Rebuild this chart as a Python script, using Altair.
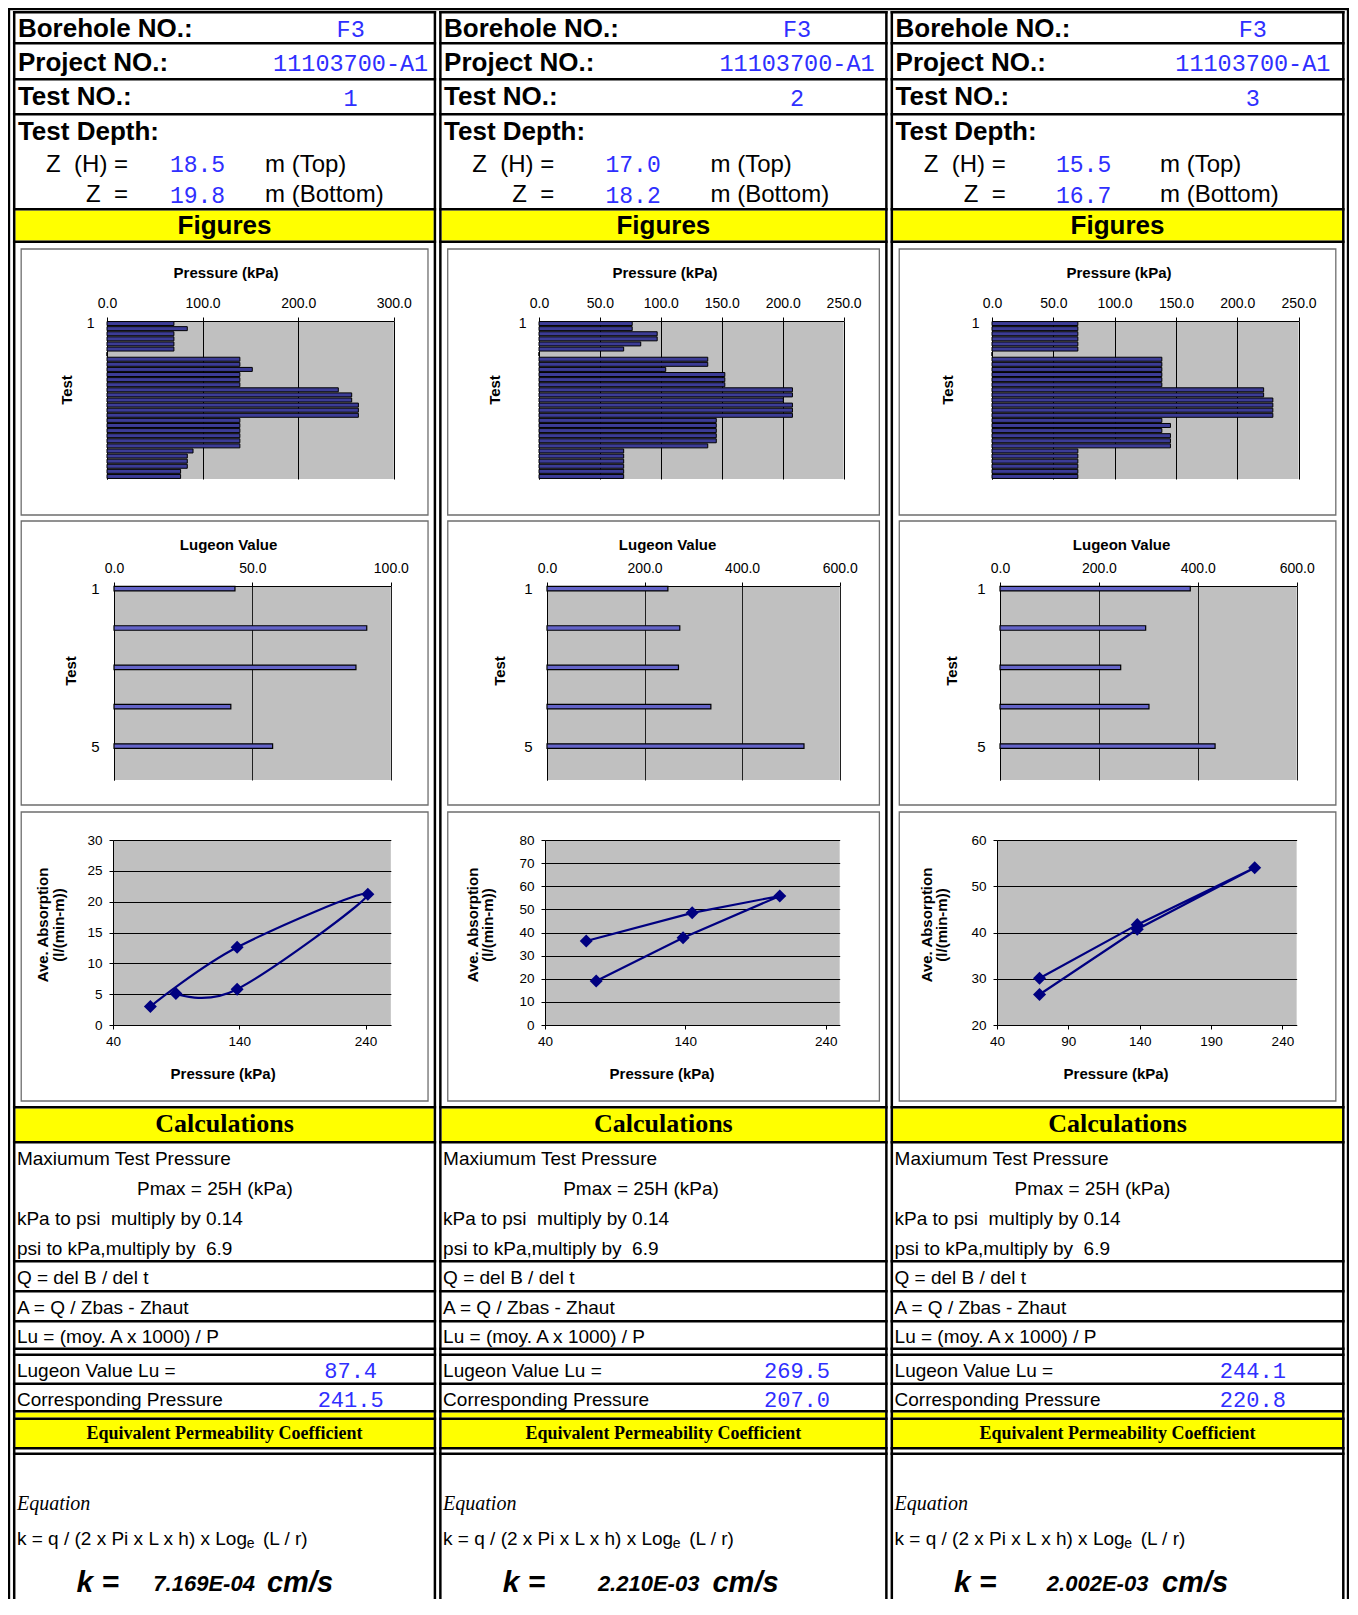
import altair as alt
import pandas as pd

# ------------------------------------------------------------------
# Values
# ------------------------------------------------------------------
borehole_no = ["F3", "F3", "F3"]
project_no = ["11103700-A1", "11103700-A1", "11103700-A1"]
test_no = ["1", "2", "3"]
depth_top = ["18.5", "17.0", "15.5"]
depth_bottom = ["19.8", "18.2", "16.7"]
lugeon_result = ["87.4", "269.5", "244.1"]
corresponding_pressure = ["241.5", "207.0", "220.8"]
k_result = ["7.169E-04", "2.210E-03", "2.002E-03"]

pressure_test_1 = [70, 84, 70, 70, 70, 70, 0,
                   139, 139, 152, 139, 139, 139,
                   242, 256, 256, 263, 263, 263,
                   139, 139, 139, 139, 139, 139,
                   90, 84, 84, 84, 77, 77]
pressure_test_2 = [76.5, 76.5, 97, 97, 83.5, 69.5, 0,
                   138.5, 138.5, 104, 152.5, 152.5, 152.5,
                   208, 208, 200.5, 208, 208, 208,
                   145.5, 145.5, 145.5, 145.5, 145.5, 138.5,
                   69.5, 69.5, 69.5, 69.5, 69.5, 69.5]
pressure_test_3 = [70, 70, 70, 70, 70, 70, 0,
                   138.5, 138.5, 138.5, 138.5, 138.5, 138.5,
                   221.5, 221.5, 229, 229, 229, 229,
                   138.5, 145.5, 138.5, 145.5, 145.5, 145.5,
                   70, 70, 70, 70, 70, 70]
pressure_max = [300, 250, 250]
pressure_ticks = [[0, 100, 200, 300],
                  [0, 50, 100, 150, 200, 250],
                  [0, 50, 100, 150, 200, 250]]

lugeon_test_1 = [43.7, 91.3, 87.4, 42.2, 57.3]
lugeon_test_2 = [247.8, 272.2, 269.5, 335.9, 526.8]
lugeon_test_3 = [384.8, 294.6, 244.1, 301.3, 435.0]
lugeon_max = [100, 600, 600]
lugeon_ticks = [[0, 50, 100], [0, 200, 400, 600], [0, 200, 400, 600]]

absorption_pressure_1 = [69.6, 138.3, 241.8, 138.3, 89.8]
absorption_value_1 = [3.0, 12.6, 21.2, 5.8, 5.1]
absorption_pressure_2 = [69.4, 144.9, 207.3, 138.4, 76.5]
absorption_value_2 = [36.3, 48.5, 55.8, 37.7, 19.0]
absorption_pressure_3 = [69.8, 138.3, 220.6, 138.3, 69.8]
absorption_value_3 = [30.1, 41.7, 54.0, 40.7, 26.6]
absorption_x_domain = [[40, 260], [40, 250], [40, 250]]
absorption_x_ticks = [[40, 140, 240], [40, 140, 240], [40, 90, 140, 190, 240]]
absorption_y_domain = [[0, 30], [0, 80], [20, 60]]
absorption_y_ticks = [[0, 5, 10, 15, 20, 25, 30],
                      [0, 10, 20, 30, 40, 50, 60, 70, 80],
                      [20, 30, 40, 50, 60]]
absorption_smooth = [True, False, False]

pressure_series = [pressure_test_1, pressure_test_2, pressure_test_3]
lugeon_series = [lugeon_test_1, lugeon_test_2, lugeon_test_3]
absorption_series = [(absorption_pressure_1, absorption_value_1),
                     (absorption_pressure_2, absorption_value_2),
                     (absorption_pressure_3, absorption_value_3)]

# ------------------------------------------------------------------
# Styles and layout (reference-page pixels, mapped by fx / fy)
# ------------------------------------------------------------------
FONT = "Liberation Sans"
SERIF = "Liberation Serif"
MONO = "Liberation Mono"
BLUE = "#2f2fff"
YELLOW = "#ffff00"
PLOT_FILL = "#c0c0c0"
PLOT_EDGE = "#808080"
BOX_EDGE = "#6e6e6e"
NAVY = "#000080"
CLEAR = "rgba(0,0,0,0)"
NB = "\u00a0"

RX0, RX1, RY0 = 6.0, 1357.5, 8.0
W = 1341.0
SX = W / (RX1 - RX0)


def fx(x):
    return (x - RX0) * SX


def fy(y):
    return y - RY0


LW = 2.5
COL_L = [11.0, 440.5, 895.5]
COL_R = [437.5, 892.5, 1353.0]
BOX_L = [18.5, 448.0, 902.5]
BOX_R = [428.5, 883.0, 1342.5]

ROW_HDR = (8.0, 243.0)
ROW_P = (243.0, 516.0)
ROW_L = (516.0, 806.0)
ROW_A = (806.0, 1102.0)
ROW_C = (1102.0, 1599.0)

P_ROW = (321.0, 479.0)
P_BOX = (249.0, 515.0)
P_X = [(105.0, 394.0), (540.0, 847.0), (996.0, 1305.0)]
P_TEST_X = [64.0, 495.5, 951.0]

L_ROW = (586.0, 780.0)
L_BOX = (521.0, 805.0)
L_X = [(112.0, 391.0), (548.0, 843.0), (1004.0, 1303.0)]
L_TEST_X = [68.0, 500.5, 955.0]

A_ROW = (840.0, 1025.0)
A_BOX = (812.0, 1101.0)
A_X = [(111.0, 391.0), (546.0, 843.0), (1001.0, 1303.0)]
A_TITLE_X = [40.0, 472.5, 929.5]

HEADER_LINES = [11.0, 42.0, 78.0, 113.0, 208.0, 240.5]
CALC_LINES = [1106.0, 1141.0, 1260.0, 1290.0, 1320.0, 1347.5, 1353.5,
              1382.5, 1410.0, 1417.5, 1447.0, 1452.5]
DEPTH_VAL = [186.0, 195.5, 194.5]
DEPTH_UNIT = [254.0, 273.5, 271.5]
K_VAL = [141.5, 160.0, 157.5]
K_UNIT = [256.0, 275.5, 273.5]


def value_x(c):
    return COL_L[c] + 0.798 * (COL_R[c] - COL_L[c])


def mid_x(c):
    return (COL_L[c] + COL_R[c]) / 2


def ref_scales(r0, r1, origin):
    xs = alt.Scale(domain=[RX0, RX1], range=[0, W], nice=False, zero=False)
    ys = alt.Scale(domain=[r0, r1], range=[fy(r0) - fy(origin), fy(r1) - fy(origin)],
                   nice=False, zero=False)
    return xs, ys


def texts(rows, xs, ys, **mk):
    df = pd.DataFrame(rows, columns=["x", "y", "t"])
    return alt.Chart(df).mark_text(**mk).encode(
        x=alt.X("x:Q", scale=xs, axis=None),
        y=alt.Y("y:Q", scale=ys, axis=None),
        text="t:N")


def rects(rows, xs, ys):
    df = pd.DataFrame(rows, columns=["x", "x2", "y", "y2", "c"])
    return alt.Chart(df).mark_rect(strokeWidth=0).encode(
        x=alt.X("x:Q", scale=xs, axis=None), x2="x2:Q",
        y=alt.Y("y:Q", scale=ys, axis=None), y2="y2:Q",
        color=alt.Color("c:N", scale=None))


def verticals(r0, r1):
    out = [(RX0, RX0 + 2.2, r0, r1, "black"), (RX1 - 2.2, RX1, r0, r1, "black")]
    for c in range(3):
        top = max(r0, HEADER_LINES[0])
        out += [(COL_L[c], COL_L[c] + LW, top, r1, "black"),
                (COL_R[c] - LW, COL_R[c], top, r1, "black")]
    return out


def spacer(w, h):
    return alt.Chart(pd.DataFrame({"s": [0]})).mark_rect(opacity=0, strokeWidth=0).encode(
        x=alt.value(0), x2=alt.value(w), y=alt.value(0), y2=alt.value(h)
    ).properties(width=w, height=h)


def lead_cell(px0, plot_row, band):
    xs, ys = ref_scales(band[0], band[1], plot_row[0])
    rows = [(RX0, RX1, band[0], band[1], CLEAR)] + verticals(band[0], band[1])
    return rects(rows, xs, ys).properties(width=fx(px0), height=fy(plot_row[1]) - fy(plot_row[0]))


def outline(px0, py0, bx0, bx1, by0, by1):
    return alt.Chart(pd.DataFrame({"s": [0]})).mark_rect(
        fillOpacity=0, stroke=BOX_EDGE, strokeWidth=1.3).encode(
        x=alt.value(fx(bx0) - fx(px0)), x2=alt.value(fx(bx1) - fx(px0)),
        y=alt.value(fy(by0) - fy(py0)), y2=alt.value(fy(by1) - fy(py0)))


VIEW = alt.ViewBackground(fill=PLOT_FILL, stroke=PLOT_EDGE, strokeWidth=1.5)


def pressure_chart(c):
    vals = pressure_series[c]
    df = pd.DataFrame({"reading": list(range(1, len(vals) + 1)), "pressure": vals})
    x0, x1 = P_X[c]
    y0, y1 = P_ROW
    bars = alt.Chart(df).mark_bar(orient="horizontal", height=4, fill="#3c3c96",
                                  stroke="black", strokeWidth=1).encode(
        x=alt.X("pressure:Q",
                scale=alt.Scale(domain=[0, pressure_max[c]], nice=False),
                axis=alt.Axis(orient="top", values=pressure_ticks[c], format=".1f",
                              title="Pressure (kPa)", grid=True, gridColor="black",
                              gridWidth=1, domainColor="black", tickColor="black",
                              tickSize=4, labelPadding=7, labelFlush=False,
                              labelOverlap=False, labelFontSize=14, titleFontSize=15,
                              titleFontWeight="bold",
                              titleX=fx((BOX_L[c] + BOX_R[c]) / 2 + 1) - fx(x0),
                              titleY=fy(272) - fy(y0), titleAlign="center",
                              titleBaseline="middle")),
        y=alt.Y("reading:Q",
                scale=alt.Scale(domain=[0.5, len(vals) + 0.5], reverse=True,
                                nice=False, zero=False, padding=0),
                axis=alt.Axis(values=[1], title="Test", grid=False, ticks=False,
                              labelPadding=13, labelFontSize=14, labelFlush=False,
                              domainColor="black", titleFontSize=15,
                              titleFontWeight="bold", titleX=fx(P_TEST_X[c]) - fx(x0),
                              titleY=fy(389.5) - fy(y0), titleAlign="center",
                              titleBaseline="middle")))
    return alt.layer(outline(x0, y0, BOX_L[c], BOX_R[c], P_BOX[0], P_BOX[1]), bars).properties(
        width=fx(x1) - fx(x0), height=fy(y1) - fy(y0), view=VIEW)


def lugeon_chart(c):
    vals = lugeon_series[c]
    df = pd.DataFrame({"test": list(range(1, len(vals) + 1)), "lugeon": vals})
    x0, x1 = L_X[c]
    y0, y1 = L_ROW
    bars = alt.Chart(df).mark_bar(orient="horizontal", height=4.5, fill="#6464c8",
                                  stroke="black", strokeWidth=1.2).encode(
        x=alt.X("lugeon:Q",
                scale=alt.Scale(domain=[0, lugeon_max[c]], nice=False),
                axis=alt.Axis(orient="top", values=lugeon_ticks[c], format=".1f",
                              title="Lugeon Value", grid=True, gridColor="#202020",
                              gridWidth=1, domainColor="black", tickColor="black",
                              tickSize=4, labelPadding=7, labelFlush=False,
                              labelOverlap=False, labelFontSize=14, titleFontSize=15,
                              titleFontWeight="bold",
                              titleX=fx((BOX_L[c] + BOX_R[c]) / 2 + 3.5) - fx(x0),
                              titleY=fy(544) - fy(y0), titleAlign="center",
                              titleBaseline="middle")),
        y=alt.Y("test:Q",
                scale=alt.Scale(domain=[0.932, 5.863], reverse=True, nice=False,
                                zero=False, padding=0),
                axis=alt.Axis(values=[1, 5], title="Test", grid=False, ticks=False,
                              labelPadding=15, labelFontSize=15, labelFlush=False,
                              domainColor="black", titleFontSize=15,
                              titleFontWeight="bold", titleX=fx(L_TEST_X[c]) - fx(x0),
                              titleY=fy(670.5) - fy(y0), titleAlign="center",
                              titleBaseline="middle")))
    return alt.layer(outline(x0, y0, BOX_L[c], BOX_R[c], L_BOX[0], L_BOX[1]), bars).properties(
        width=fx(x1) - fx(x0), height=fy(y1) - fy(y0), view=VIEW)


def absorption_chart(c):
    pres, val = absorption_series[c]
    df = pd.DataFrame({"step": list(range(1, len(pres) + 1)), "pressure": pres,
                       "absorption": val})
    x0, x1 = A_X[c]
    y0, y1 = A_ROW
    xenc = alt.X("pressure:Q",
                 scale=alt.Scale(domain=absorption_x_domain[c], nice=False, zero=False),
                 axis=alt.Axis(values=absorption_x_ticks[c], format="d",
                               title="Pressure (kPa)", grid=False, domainColor="black",
                               tickColor="black", tickSize=4, labelPadding=5,
                               labelFlush=False, labelOverlap=False, labelFontSize=13.5,
                               titleFontSize=15, titleFontWeight="bold",
                               titleX=fx((BOX_L[c] + BOX_R[c]) / 2 - 2) - fx(x0),
                               titleY=fy(1073) - fy(y1), titleAlign="center",
                               titleBaseline="middle"))
    yenc = alt.Y("absorption:Q",
                 scale=alt.Scale(domain=absorption_y_domain[c], nice=False, zero=False),
                 axis=alt.Axis(values=absorption_y_ticks[c], tickCount=len(absorption_y_ticks[c]),
                               format="d",
                               title=["Ave. Absorption", "(l/(min-m))"], grid=True,
                               gridColor="black", gridWidth=1, domainColor="black",
                               tickColor="black", tickSize=4, labelPadding=7,
                               labelFlush=False, labelOverlap=False, labelFontSize=13.5,
                               titleFontSize=15, titleFontWeight="bold",
                               titleLineHeight=15.5, titleX=fx(A_TITLE_X[c]) - fx(x0),
                               titleY=fy(924.5) - fy(y0), titleAlign="center",
                               titleBaseline="middle"))
    interp = "cardinal" if absorption_smooth[c] else "linear"
    line = alt.Chart(df).mark_line(interpolate=interp, color=NAVY, strokeWidth=2.2).encode(
        x=xenc, y=yenc, order=alt.Order("step:Q"))
    pts = alt.Chart(df).mark_point(shape="diamond", filled=True, size=170, color=NAVY,
                                   opacity=1).encode(x=xenc, y=yenc)
    return alt.layer(outline(x0, y0, BOX_L[c], BOX_R[c], A_BOX[0], A_BOX[1]), line, pts).properties(
        width=fx(x1) - fx(x0), height=fy(y1) - fy(y0), view=VIEW)


def chart_row(charts, xspans, plot_row, band):
    h = fy(plot_row[1]) - fy(plot_row[0])
    cells = [lead_cell(xspans[0][0], plot_row, band), charts[0]]
    for i in range(1, 3):
        cells.append(spacer(fx(xspans[i][0]) - fx(xspans[i - 1][1]), h))
        cells.append(charts[i])
    return alt.hconcat(*cells, spacing=0, bounds="flush")


# ------------------------------------------------------------------
# Header panel
# ------------------------------------------------------------------
xs1, ys1 = ref_scales(ROW_HDR[0], ROW_HDR[1], ROW_HDR[0])

hdr_frame = [(COL_L[c] + LW, COL_R[c] - LW, 210.5, 240.5, YELLOW) for c in range(3)]
hdr_frame += [(RX0, RX1, RY0, RY0 + 2.2, "black")] + verticals(RY0, ROW_HDR[1])
for c in range(3):
    for yt in HEADER_LINES:
        hdr_frame.append((COL_L[c], COL_R[c], yt, yt + LW, "black"))

hdr_bold, hdr_fig, hdr_mono, hdr_eq, hdr_dval, hdr_unit = [], [], [], [], [], []
for c in range(3):
    L = COL_L[c]
    hdr_bold += [(L + 5, 28.5, "Borehole NO.:"), (L + 5, 62.5, "Project NO.:"),
                 (L + 5, 97.0, "Test NO.:"), (L + 5, 132.0, "Test Depth:")]
    hdr_fig.append((mid_x(c), 226.0, "Figures"))
    hdr_mono += [(value_x(c), 29.5, borehole_no[c]), (value_x(c), 64.0, project_no[c]),
                 (value_x(c), 98.5, test_no[c])]
    hdr_eq += [(L + 116, 164.5, "Z" + NB + NB + "(H) ="), (L + 116, 195.0, "Z" + NB + NB + "=")]
    hdr_dval += [(L + DEPTH_VAL[c], 165.0, depth_top[c]),
                 (L + DEPTH_VAL[c], 195.5, depth_bottom[c])]
    hdr_unit += [(L + DEPTH_UNIT[c], 164.5, "m (Top)"), (L + DEPTH_UNIT[c], 195.0, "m (Bottom)")]

header = alt.layer(
    rects(hdr_frame, xs1, ys1),
    texts(hdr_bold, xs1, ys1, font=FONT, fontSize=26, fontWeight="bold", align="left",
          baseline="middle", color="black"),
    texts(hdr_fig, xs1, ys1, font=FONT, fontSize=26, fontWeight="bold", align="center",
          baseline="middle", color="black"),
    texts(hdr_mono, xs1, ys1, font=MONO, fontSize=23.5, align="center", baseline="middle",
          color=BLUE),
    texts(hdr_eq, xs1, ys1, font=FONT, fontSize=24, align="right", baseline="middle",
          color="black"),
    texts(hdr_dval, xs1, ys1, font=MONO, fontSize=23, align="center", baseline="middle",
          color=BLUE),
    texts(hdr_unit, xs1, ys1, font=FONT, fontSize=24, align="left", baseline="middle",
          color="black"),
).properties(width=W, height=fy(ROW_HDR[1]) - fy(ROW_HDR[0]))

# ------------------------------------------------------------------
# Calculation panel
# ------------------------------------------------------------------
xs7, ys7 = ref_scales(ROW_C[0], ROW_C[1], ROW_C[0])

calc_frame = []
for c in range(3):
    L, R = COL_L[c], COL_R[c]
    calc_frame += [(L + LW, R - LW, 1108.5, 1141.0, YELLOW),
                   (L + LW, R - LW, 1412.5, 1417.5, YELLOW),
                   (L + LW, R - LW, 1420.0, 1447.0, YELLOW)]
calc_frame += verticals(ROW_C[0], ROW_C[1])
for c in range(3):
    for yt in CALC_LINES:
        calc_frame.append((COL_L[c], COL_R[c], yt, yt + LW, "black"))

reg, sub, mono, calc_title, eq_title, eq_word, k_lab, k_val, k_unit = ([] for _ in range(9))
for c in range(3):
    L = COL_L[c]
    reg += [(L + 4, 1158.5, "Maxiumum Test Pressure"),
            (L + 125, 1188.5, "Pmax = 25H (kPa)"),
            (L + 4, 1218.5, "kPa to psi" + NB + NB + "multiply by 0.14"),
            (L + 4, 1248.5, "psi to kPa,multiply by" + NB + NB + "6.9"),
            (L + 4, 1277.5, "Q = del B / del t"),
            (L + 4, 1307.5, "A = Q / Zbas - Zhaut"),
            (L + 4, 1336.5, "Lu = (moy. A x 1000) / P"),
            (L + 4, 1370.5, "Lugeon Value Lu ="),
            (L + 4, 1399.5, "Corresponding Pressure"),
            (L + 4, 1538.5, "k = q / (2 x Pi x L x h) x Log"),
            (L + 252, 1538.5, "(L / r)")]
    sub.append((L + 235.5, 1543.5, "e"))
    mono += [(value_x(c), 1370.5, lugeon_result[c]),
             (value_x(c), 1399.5, corresponding_pressure[c])]
    calc_title.append((mid_x(c), 1124.0, "Calculations"))
    eq_title.append((mid_x(c), 1433.5, "Equivalent Permeability Coefficient"))
    eq_word.append((L + 4, 1503.5, "Equation"))
    k_lab.append((L + 64, 1592.0, "k ="))
    k_val.append((L + K_VAL[c], 1591.0, k_result[c]))
    k_unit.append((L + K_UNIT[c], 1592.0, "cm/s"))

calc = alt.layer(
    rects(calc_frame, xs7, ys7),
    texts(reg, xs7, ys7, font=FONT, fontSize=19, align="left", baseline="middle", color="black"),
    texts(sub, xs7, ys7, font=FONT, fontSize=14, align="left", baseline="middle", color="black"),
    texts(mono, xs7, ys7, font=MONO, fontSize=22, align="center", baseline="middle", color=BLUE),
    texts(calc_title, xs7, ys7, font=SERIF, fontSize=26, fontWeight="bold", align="center",
          baseline="middle", color="black"),
    texts(eq_title, xs7, ys7, font=SERIF, fontSize=18, fontWeight="bold", align="center",
          baseline="middle", color="black"),
    texts(eq_word, xs7, ys7, font=SERIF, fontSize=20, fontStyle="italic", align="left",
          baseline="middle", color="black"),
    texts(k_lab, xs7, ys7, font=FONT, fontSize=30, fontWeight="bold", fontStyle="italic",
          align="left", baseline="alphabetic", color="black"),
    texts(k_val, xs7, ys7, font=FONT, fontSize=22, fontWeight="bold", fontStyle="italic",
          align="left", baseline="alphabetic", color="black"),
    texts(k_unit, xs7, ys7, font=FONT, fontSize=29, fontWeight="bold", fontStyle="italic",
          align="left", baseline="alphabetic", color="black"),
).properties(width=W, height=fy(ROW_C[1]) - fy(ROW_C[0]))

# ------------------------------------------------------------------
# Assemble
# ------------------------------------------------------------------
chart = alt.vconcat(
    header,
    chart_row([pressure_chart(c) for c in range(3)], P_X, P_ROW, ROW_P),
    chart_row([lugeon_chart(c) for c in range(3)], L_X, L_ROW, ROW_L),
    chart_row([absorption_chart(c) for c in range(3)], A_X, A_ROW, ROW_A),
    calc,
    spacing=0,
).properties(padding=0).configure_view(
    stroke="transparent", strokeWidth=0, strokeOpacity=0).configure_axis(
    labelFont=FONT, titleFont=FONT, labelColor="black", titleColor="black").configure_concat(
    spacing=0)

chart.save("out.html", embed_options={"renderer": "svg", "actions": False})
